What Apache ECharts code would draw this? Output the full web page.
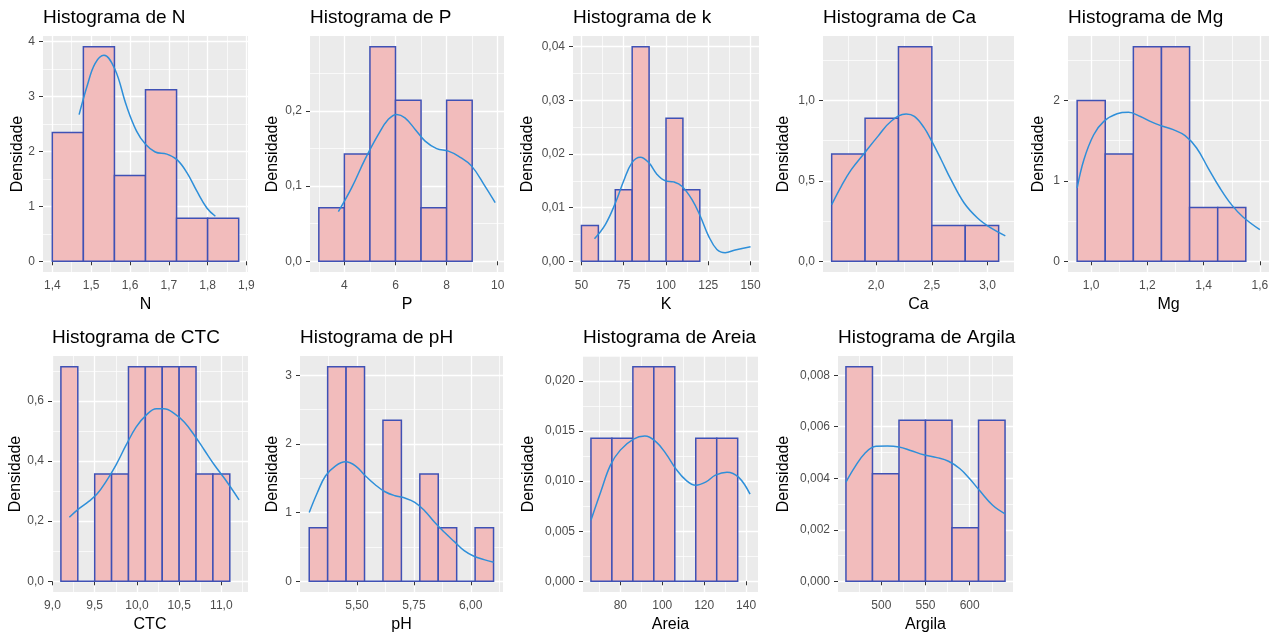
<!DOCTYPE html>
<html>
<head>
<meta charset="utf-8">
<title>Histogramas</title>
<script src="https://cdn.jsdelivr.net/npm/echarts@6/dist/echarts.min.js"></script>
<style>
html, body { margin: 0; padding: 0; background: #fff; }
#container { width: 1279px; height: 637px; }
</style>
</head>
<body>
<div id="container"></div>
<script>
// nomes das variaveis
var titles = ['Histograma de N', 'Histograma de P', 'Histograma de k', 'Histograma de Ca', 'Histograma de Mg',
              'Histograma de CTC', 'Histograma de pH', 'Histograma de Areia', 'Histograma de Argila'];
var varNames = ['N', 'P', 'K', 'Ca', 'Mg', 'CTC', 'pH', 'Areia', 'Argila'];

// classes do histograma: inicio e largura
var binStart = [1.40, 3, 50, 1.6, 0.95, 9.1, 5.29, 66, 460];
var binWidth = [0.08, 1, 10, 0.3, 0.1, 0.2, 0.081, 10, 30];

// densidade de cada classe
var densN = [2.344, 3.906, 1.563, 3.125, 0.781, 0.781];
var densP = [0.0714, 0.1429, 0.2857, 0.2143, 0.0714, 0.2143];
var densK = [0.00667, 0, 0.01333, 0.04, 0, 0.02667, 0.01333];
var densCa = [0.667, 0.889, 1.333, 0.222, 0.222];
var densMg = [2.0, 1.333, 2.667, 2.667, 0.667, 0.667];
var densCTC = [0.714, 0, 0.357, 0.357, 0.714, 0.714, 0.714, 0.714, 0.357, 0.357];
var densPH = [0.781, 3.125, 3.125, 0, 2.344, 0, 1.563, 0.781, 0, 0.781];
var densAreia = [0.01429, 0.01429, 0.02143, 0.02143, 0, 0.01429, 0.01429];
var densArgila = [0.00833, 0.00417, 0.00625, 0.00625, 0.00208, 0.00625];

// curvas de densidade (kernel)
var curveN = [[1.469, 2.67], [1.49, 3.2], [1.51, 3.6], [1.533, 3.75], [1.561, 3.5], [1.591, 2.83], [1.617, 2.37],
              [1.640, 2.13], [1.665, 1.99], [1.695, 1.95], [1.721, 1.85], [1.747, 1.61], [1.772, 1.28],
              [1.798, 0.97], [1.820, 0.82]];
var curveP = [[3.765, 0.066], [4.287, 0.098], [4.81, 0.136], [5.33, 0.169], [5.72, 0.189], [6.05, 0.1956],
              [6.37, 0.191], [6.77, 0.1756], [7.16, 0.16], [7.61, 0.15], [8.07, 0.1467], [8.46, 0.14],
              [8.98, 0.1267], [9.50, 0.10], [9.90, 0.078]];
var curveK = [[57.7, 0.0042], [64.2, 0.0069], [70.1, 0.0109], [75.0, 0.0150], [79.9, 0.0184], [84.8, 0.0194],
              [89.8, 0.0184], [94.7, 0.0162], [99.6, 0.0150], [104.5, 0.0148], [109.4, 0.0140],
              [115.4, 0.0115], [120.3, 0.0084], [125.2, 0.0047], [130.1, 0.0022], [135.0, 0.0016],
              [140.9, 0.0021], [150, 0.0027]];
var curveCa = [[1.6, 0.352], [1.686, 0.466], [1.776, 0.569], [1.895, 0.673], [2.015, 0.776], [2.134, 0.870],
               [2.269, 0.915], [2.343, 0.90], [2.43, 0.83], [2.50, 0.745], [2.584, 0.631], [2.672, 0.507],
               [2.79, 0.362], [2.91, 0.269], [3.03, 0.207], [3.16, 0.158]];
var curveMg = [[0.95, 0.911], [0.974, 1.263], [1.009, 1.573], [1.045, 1.739], [1.092, 1.834], [1.133, 1.851],
               [1.175, 1.80], [1.21, 1.739], [1.245, 1.689], [1.292, 1.636], [1.334, 1.561], [1.375, 1.408],
               [1.416, 1.159], [1.458, 0.911], [1.499, 0.704], [1.54, 0.551], [1.60, 0.393]];
var curveCTC = [[9.2, 0.213], [9.31, 0.241], [9.43, 0.266], [9.53, 0.291], [9.63, 0.33], [9.75, 0.386],
                [9.87, 0.452], [9.99, 0.513], [10.11, 0.553], [10.23, 0.574], [10.32, 0.574], [10.44, 0.559],
                [10.56, 0.53], [10.68, 0.486], [10.80, 0.436], [10.92, 0.386], [11.04, 0.341], [11.21, 0.271]];
var curvePH = [[5.29, 1.003], [5.326, 1.294], [5.362, 1.537], [5.406, 1.682], [5.449, 1.74], [5.493, 1.682],
               [5.536, 1.537], [5.58, 1.406], [5.623, 1.304], [5.667, 1.246], [5.71, 1.212], [5.754, 1.149],
               [5.797, 1.028], [5.841, 0.858], [5.884, 0.713], [5.928, 0.577], [5.971, 0.446],
               [6.014, 0.364], [6.058, 0.315], [6.101, 0.276]];
var curveAreia = [[66, 0.0061], [70.6, 0.0089], [75.3, 0.0116], [80, 0.0131], [86.3, 0.0142], [91.7, 0.0145],
                  [97.2, 0.0139], [101.9, 0.0127], [106.6, 0.0112], [111.3, 0.0101], [116.0, 0.0096],
                  [120.7, 0.0099], [125.4, 0.0106], [130.9, 0.0109], [136.4, 0.0104], [141.9, 0.0087]];
var curveArgila = [[460, 0.00385], [470, 0.00443], [481, 0.00495], [494, 0.00524], [507, 0.00525],
                   [520, 0.00521], [533, 0.00508], [548, 0.00491], [563, 0.0048], [576, 0.00466],
                   [589, 0.00437], [600, 0.00398], [611, 0.00353], [626, 0.00295], [640, 0.00262]];

// marcas dos eixos
var ticksX = [[1.4, 1.5, 1.6, 1.7, 1.8, 1.9], [4, 6, 8, 10], [50, 75, 100, 125, 150], [2.0, 2.5, 3.0],
              [1.0, 1.2, 1.4, 1.6], [9, 9.5, 10, 10.5, 11], [5.5, 5.75, 6.0], [80, 100, 120, 140], [500, 550, 600]];
var ticksY = [[0, 1, 2, 3, 4], [0, 0.1, 0.2], [0, 0.01, 0.02, 0.03, 0.04], [0, 0.5, 1.0], [0, 1, 2],
              [0, 0.2, 0.4, 0.6], [0, 1, 2, 3], [0, 0.005, 0.01, 0.015, 0.02], [0, 0.002, 0.004, 0.006, 0.008]];
var decX = [1, 0, 0, 1, 1, 1, 2, 0, 0];
var decY = [0, 1, 2, 1, 0, 1, 0, 3, 3];

var dens = [densN, densP, densK, densCa, densMg, densCTC, densPH, densAreia, densArgila];
var curves = [curveN, curveP, curveK, curveCa, curveMg, curveCTC, curvePH, curveAreia, curveArgila];

// layout dos paineis
var panelLeft = [43, 310, 573, 823, 1068, 52, 300, 583, 838];
var panelRight = [248, 504, 759, 1014, 1269, 248, 503, 758, 1013];
var panelTop = [36, 36, 36, 36, 36, 356, 356, 356, 356];
var panelHeight = 236;
var yNameGap = [17, 29, 37, 31, 21, 28, 19, 46, 46];

var fontFamily = 'Liberation Sans, Arial, sans-serif';

function fmt(d) {
    return function (v) { return Number(v).toFixed(d).replace('.', ','); };
}

// grade secundaria no meio das marcas principais
function minorValues(ticks, lo, hi) {
    var step = ticks[1] - ticks[0];
    var out = [ticks[0] - step / 2];
    for (var i = 0; i < ticks.length; i++) out.push(ticks[i] + step / 2);
    return out.filter(function (v) { return v > lo && v < hi; });
}

var dom = document.getElementById('container');
var myChart = echarts.init(dom);

var option = {
    backgroundColor: '#ffffff',
    animation: false,
    title: [],
    grid: [],
    xAxis: [],
    yAxis: [],
    series: []
};

function addPanel(i) {
    var bins = dens[i].map(function (h, k) {
        return [binStart[i] + k * binWidth[i], binStart[i] + (k + 1) * binWidth[i], h];
    });
    var curve = curves[i];
    var lo = Math.min(bins[0][0], curve[0][0]);
    var hi = Math.max(bins[bins.length - 1][1], curve[curve.length - 1][0]);
    var padX = 0.05 * (hi - lo);
    var xMin = lo - padX, xMax = hi + padX;
    var hMax = Math.max.apply(null, dens[i]);
    var yMin = -0.05 * hMax, yMax = 1.05 * hMax;

    option.title.push({
        text: titles[i],
        left: panelLeft[i],
        top: panelTop[i] - 28,
        padding: 0,
        textStyle: { fontFamily: fontFamily, fontSize: 19, fontWeight: 'normal', color: '#000' }
    });

    option.grid.push({
        left: panelLeft[i],
        top: panelTop[i],
        width: panelRight[i] - panelLeft[i],
        height: panelHeight,
        show: true,
        backgroundColor: '#EBEBEB',
        borderWidth: 0,
        outerBoundsMode: 'none'
    });

    // eixo principal x
    option.xAxis.push({
        type: 'value', gridIndex: i, min: xMin, max: xMax,
        name: varNames[i], nameLocation: 'middle', nameGap: 25, nameMoveOverlap: false,
        nameTextStyle: { fontFamily: fontFamily, fontSize: 16, color: '#000' },
        axisLine: { show: false },
        axisTick: { show: true, length: 4, customValues: ticksX[i], lineStyle: { color: '#333', width: 1 } },
        axisLabel: { customValues: ticksX[i], formatter: fmt(decX[i]), margin: 8, hideOverlap: false,
                     showMinLabel: true, showMaxLabel: true,
                     fontFamily: fontFamily, fontSize: 12, color: '#4D4D4D' },
        splitLine: { show: true, lineStyle: { color: '#fff', width: 1.3 } }
    });
    // eixo secundario x (grade menor)
    option.xAxis.push({
        type: 'value', gridIndex: i, min: xMin, max: xMax,
        axisLine: { show: false },
        axisTick: { show: false, customValues: minorValues(ticksX[i], xMin, xMax) },
        axisLabel: { show: false, customValues: minorValues(ticksX[i], xMin, xMax) },
        splitLine: { show: true, lineStyle: { color: '#fff', width: 0.7 } }
    });
    option.yAxis.push({
        type: 'value', gridIndex: i, min: yMin, max: yMax,
        name: 'Densidade', nameLocation: 'middle', nameGap: yNameGap[i], nameMoveOverlap: false,
        nameTextStyle: { fontFamily: fontFamily, fontSize: 16, color: '#000' },
        axisLine: { show: false },
        axisTick: { show: true, length: 4, customValues: ticksY[i], lineStyle: { color: '#333', width: 1 } },
        axisLabel: { customValues: ticksY[i], formatter: fmt(decY[i]), margin: 8, hideOverlap: false,
                     showMinLabel: true, showMaxLabel: true,
                     fontFamily: fontFamily, fontSize: 12, color: '#4D4D4D' },
        splitLine: { show: true, lineStyle: { color: '#fff', width: 1.3 } }
    });
    option.yAxis.push({
        type: 'value', gridIndex: i, min: yMin, max: yMax,
        axisLine: { show: false },
        axisTick: { show: false, customValues: minorValues(ticksY[i], yMin, yMax) },
        axisLabel: { show: false, customValues: minorValues(ticksY[i], yMin, yMax) },
        splitLine: { show: true, lineStyle: { color: '#fff', width: 0.7 } }
    });

    // barras do histograma
    option.series.push({
        type: 'custom',
        xAxisIndex: 2 * i,
        yAxisIndex: 2 * i,
        data: bins,
        encode: { x: [0, 1], y: 2 },
        renderItem: function (params, api) {
            var p0 = api.coord([api.value(0), 0]);
            var p1 = api.coord([api.value(1), api.value(2)]);
            return {
                type: 'rect',
                shape: { x: p0[0], y: p1[1], width: p1[0] - p0[0], height: p0[1] - p1[1] },
                style: { fill: '#F2BCBC', stroke: '#3F51B5', lineWidth: 1.5 }
            };
        }
    });
    // curva de densidade
    option.series.push({
        type: 'line',
        xAxisIndex: 2 * i,
        yAxisIndex: 2 * i,
        data: curve,
        smooth: 0.4,
        showSymbol: false,
        lineStyle: { color: '#2E8FD9', width: 1.5 }
    });
}

for (var p = 0; p < 9; p++) addPanel(p);

myChart.setOption(option, true);
</script>
</body>
</html>
